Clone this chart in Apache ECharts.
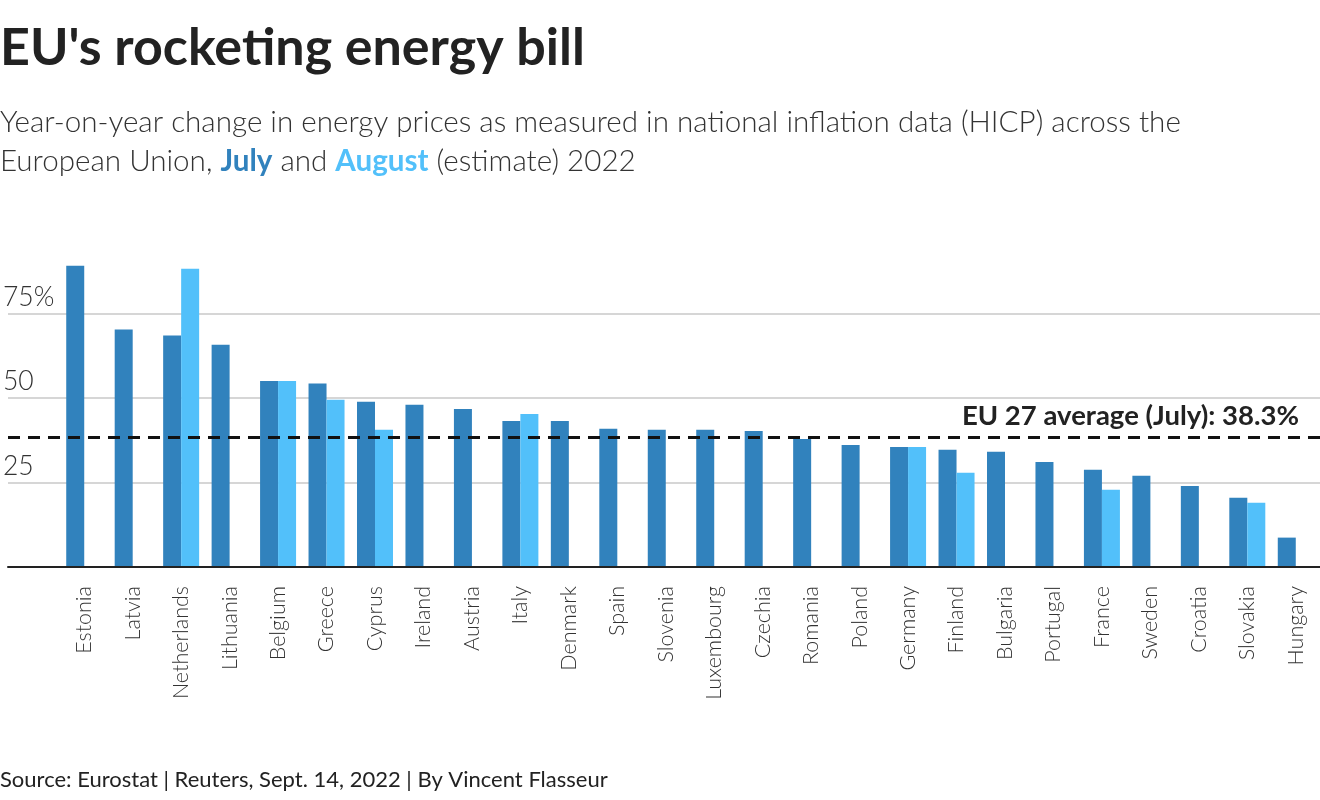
<!DOCTYPE html>
<html>
<head>
<meta charset="utf-8">
<script src="https://cdn.jsdelivr.net/npm/echarts@6/dist/echarts.min.js"></script>
<style>
html,body{margin:0;padding:0;background:#fff;}
#chart{width:1320px;height:800px;}
</style>
</head>
<body>
<div id="chart"></div>
<script>
const countries = ["Estonia","Latvia","Netherlands","Lithuania","Belgium","Greece","Cyprus","Ireland","Austria","Italy","Denmark","Spain","Slovenia","Luxembourg","Czechia","Romania","Poland","Germany","Finland","Bulgaria","Portugal","France","Sweden","Croatia","Slovakia","Hungary"];
const july   = [89.2,70.3,68.5,65.8,55.1,54.3,48.9,48.0,46.8,43.2,43.2,40.9,40.6,40.6,40.3,37.9,36.1,35.5,34.7,34.1,31.1,28.8,27.0,24.0,20.5,8.7];
const august = [null,null,88.3,null,55.1,49.5,40.6,null,null,45.3,null,null,null,null,null,null,null,35.5,27.9,null,null,22.9,null,null,19.0,null];
const euAverage = 38.3;
const yTicks = {min:0, max:90, interval:25};

const FONT = 'Lato, "Noto Sans", sans-serif';
const chart = echarts.init(document.getElementById('chart'), null, {renderer:'canvas'});
const option = {
  backgroundColor:'#fff',
  animation:false,
  textStyle:{fontFamily:FONT},
  title:[
    {text:"EU's rocketing energy bill", left:0, top:22, padding:0,
     textStyle:{fontFamily:FONT, fontSize:52, fontWeight:'bold', color:'#222'}},
    {text:'{l|Year-on-year change in energy prices as measured in national inflation data (HICP) across the}\n{l|European Union, }{j|July}{l| and }{a|August}{l| (estimate) 2022}',
     left:0, top:103, padding:0,
     textStyle:{rich:{
       l:{fontFamily:FONT, fontSize:29.6, fontWeight:300, color:'#333', lineHeight:39},
       j:{fontFamily:FONT, fontSize:29.6, fontWeight:'bold', color:'#3182bd', lineHeight:39},
       a:{fontFamily:FONT, fontSize:29.6, fontWeight:'bold', color:'#52c0fa', lineHeight:39}
     }}},
    {text:'Source: Eurostat | Reuters, Sept. 14, 2022 | By Vincent Flasseur', left:0, top:769, padding:0,
     textStyle:{fontFamily:FONT, fontSize:22, fontWeight:'normal', color:'#222'}}
  ],
  grid:[
    {left:0, right:0, top:263, bottom:233, containLabel:false},
    {left:60, right:0, top:263, bottom:233, containLabel:false}
  ],
  xAxis:[
    {gridIndex:0, type:'value', min:0, max:1, axisLabel:{show:false}, axisTick:{show:false}, splitLine:{show:false},
     axisLine:{show:true, lineStyle:{color:'#222', width:2}}, z:5},
    {gridIndex:1, type:'category', data:countries, axisLine:{show:false}, axisTick:{show:false},
     axisLabel:{rotate:90, interval:0, margin:19, fontSize:21.5, fontWeight:300, color:'#333', fontFamily:FONT}}
  ],
  yAxis:[
    {gridIndex:0, type:'value', min:yTicks.min, max:yTicks.max, interval:yTicks.interval,
     axisLine:{show:false}, axisTick:{show:false},
     splitLine:{show:true, showMinLine:false, showMaxLine:false, lineStyle:{color:'#c8c8c8', width:1.5}},
     axisLabel:{inside:true, margin:-5, verticalAlign:'bottom', align:'left', padding:[0,0,3,0],
       showMinLabel:false, showMaxLabel:false, fontSize:26.5, fontWeight:300, color:'#333', fontFamily:FONT,
       formatter:function(v){ return v===75 ? '75%' : String(v); }}},
    {gridIndex:1, type:'value', min:yTicks.min, max:yTicks.max, interval:yTicks.interval, show:false}
  ],
  series:[
    {name:'July', type:'bar', xAxisIndex:1, yAxisIndex:1, data:july, barWidth:18, barGap:'0%',
     itemStyle:{color:'#3182bd'}, z:2},
    {name:'August', type:'bar', xAxisIndex:1, yAxisIndex:1, data:august, barWidth:18, barGap:'0%',
     itemStyle:{color:'#52c0fa'}, z:2},
    {name:'avg', type:'line', xAxisIndex:0, yAxisIndex:0, data:[], symbol:'none', z:10,
     markLine:{silent:true, symbol:['none','none'],
       lineStyle:{color:'#111', width:3, type:[12,8]},
       label:{show:true, position:'insideEndTop', formatter:'EU 27 average (July): ' + euAverage + '%',
         fontFamily:FONT, fontSize:27.5, fontWeight:'bold', color:'#222', padding:[0,16,3,0]},
       data:[{yAxis:euAverage}]}}
  ]
};
chart.setOption(option);
</script>
</body>
</html>
